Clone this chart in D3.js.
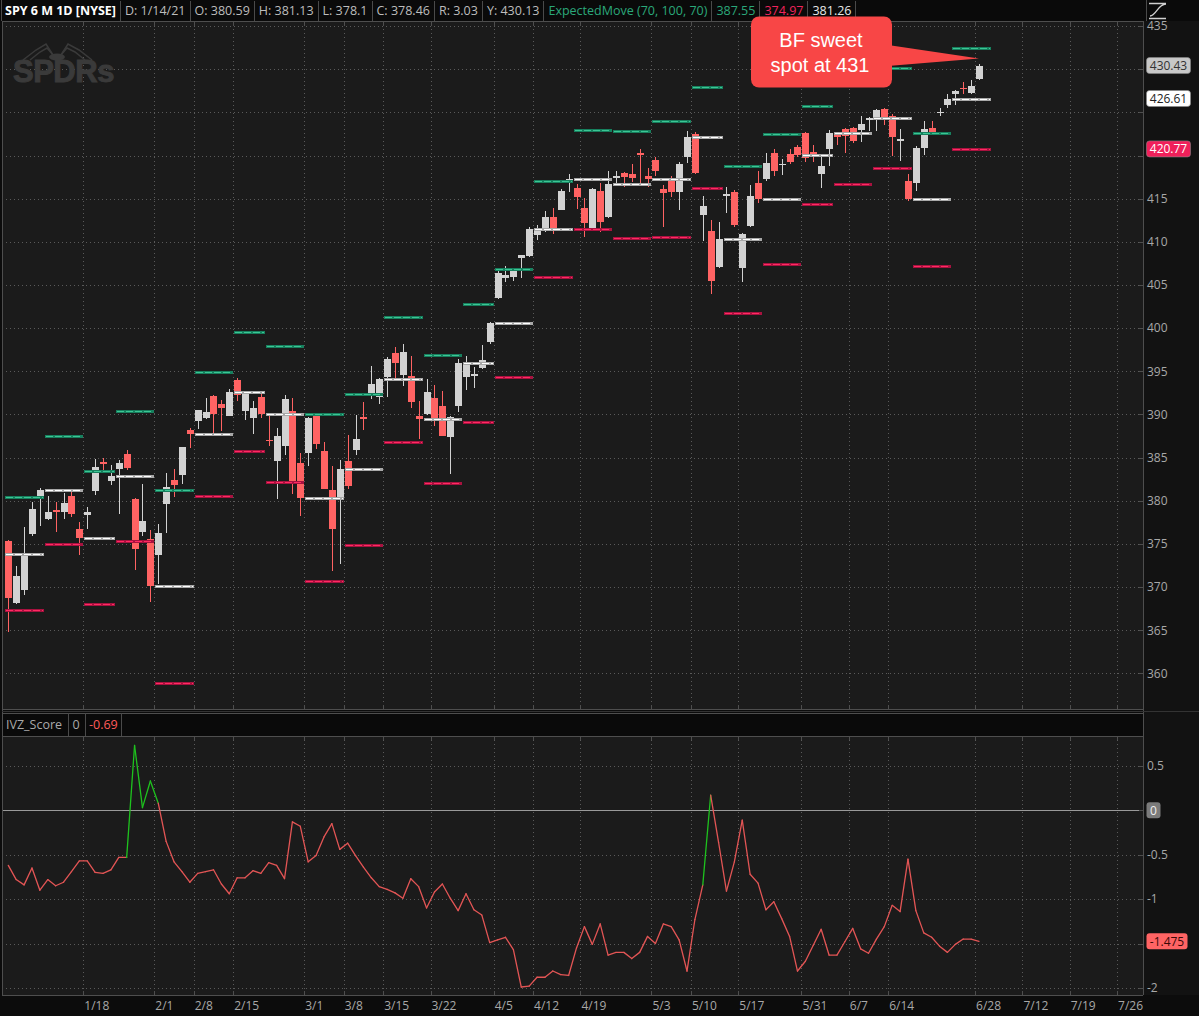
<!DOCTYPE html>
<html><head><meta charset="utf-8">
<script src="https://cdn.jsdelivr.net/npm/d3@7"></script>
<style>html,body{margin:0;padding:0;background:#0c0c0c;overflow:hidden}</style>
</head><body>
<svg id="c" width="1199" height="1016" xmlns="http://www.w3.org/2000/svg"></svg>
<script>
// ---------------- DATA ----------------
const dates = ["1/4","1/5","1/6","1/7","1/8","1/11","1/12","1/13","1/14","1/15","1/19","1/20","1/21","1/22","1/25","1/26","1/27","1/28","1/29",
"2/1","2/2","2/3","2/4","2/5","2/8","2/9","2/10","2/11","2/12","2/16","2/17","2/18","2/19","2/22","2/23","2/24","2/25","2/26",
"3/1","3/2","3/3","3/4","3/5","3/8","3/9","3/10","3/11","3/12","3/15","3/16","3/17","3/18","3/19","3/22","3/23","3/24","3/25","3/26","3/29","3/30","3/31",
"4/1","4/5","4/6","4/7","4/8","4/9","4/12","4/13","4/14","4/15","4/16","4/19","4/20","4/21","4/22","4/23","4/26","4/27","4/28","4/29","4/30",
"5/3","5/4","5/5","5/6","5/7","5/10","5/11","5/12","5/13","5/17","5/18","5/19","5/20","5/21","5/24","5/25","5/26","5/27","5/28",
"6/1","6/2","6/3","6/4","6/7","6/8","6/9","6/10","6/11","6/14","6/15","6/16","6/17","6/18","6/21","6/22","6/23","6/24","6/25","6/28","6/29","6/30","7/1"];
const open = [375.31,368.10,369.71,376.10,380.59,377.85,378.89,378.69,380.59,376.72,378.34,381.11,384.49,382.25,383.67,385.41,380.22,376.36,375.63,
373.72,379.65,382.44,382.96,388.20,389.27,389.61,392.12,391.24,389.85,393.96,390.42,389.59,392.07,387.06,384.66,386.33,390.41,384.35,
385.59,389.82,385.79,381.22,380.46,384.66,385.85,389.69,392.23,392.07,394.33,397.07,394.53,394.48,389.88,390.03,391.91,391.00,387.34,390.93,394.40,394.42,395.34,
398.40,403.46,405.76,405.94,408.10,408.39,410.85,411.53,412.83,413.74,417.25,416.26,413.91,411.51,415.89,412.87,417.44,417.93,417.81,420.32,417.63,
419.43,416.07,417.38,415.83,419.89,422.50,413.10,411.23,407.07,415.39,415.80,406.92,411.80,416.87,417.34,420.33,418.87,420.17,420.97,
422.57,420.37,417.85,420.75,422.59,423.11,423.18,422.96,424.20,424.43,425.42,424.63,421.67,417.09,416.80,420.85,423.19,424.89,425.90,427.17,427.88,427.21,428.87];
const high = [375.45,372.50,376.98,379.90,381.49,380.58,379.86,380.86,381.13,377.58,379.23,384.79,384.95,384.13,384.77,385.85,380.32,381.93,376.67,
377.34,383.22,383.70,386.24,388.47,390.56,391.89,392.28,391.69,392.90,394.17,392.66,391.52,392.38,390.11,388.43,392.23,391.88,385.58,
389.68,390.07,386.83,384.00,384.76,387.68,389.91,391.40,395.65,394.21,396.69,397.83,398.12,396.72,391.57,394.07,393.46,392.75,389.88,396.41,396.75,395.45,398.00,
400.67,406.94,407.24,406.96,408.15,411.67,411.93,413.53,413.96,416.16,417.91,416.74,415.09,416.29,416.78,418.25,418.22,418.14,419.01,420.72,418.54,
419.84,416.60,417.63,419.21,422.82,422.74,415.27,412.59,412.35,416.39,416.06,411.05,416.63,418.20,420.32,420.71,419.61,420.72,421.25,
422.72,421.23,419.99,422.92,422.78,423.21,423.26,424.63,424.43,425.37,425.46,424.87,423.02,417.83,421.06,424.00,424.05,425.55,427.09,427.65,428.56,428.78,430.60];
const low = [364.82,368.05,369.12,375.91,377.10,377.72,376.36,377.85,378.10,373.70,376.75,380.69,383.25,381.84,378.46,383.54,372.01,375.89,368.27,
370.38,376.32,380.48,381.97,386.14,388.35,389.42,387.50,388.10,389.77,391.53,389.33,387.74,389.55,386.35,380.20,385.27,380.78,378.23,
384.00,386.00,381.31,371.88,372.64,381.42,385.31,388.17,391.74,391.20,392.03,394.11,393.30,390.75,387.15,389.97,388.66,387.47,383.14,390.29,392.81,393.02,395.31,
398.18,403.38,405.40,405.45,405.82,408.26,410.20,411.12,410.87,413.69,415.73,413.79,410.59,411.36,411.13,412.79,416.81,416.30,416.90,416.44,416.34,
417.67,411.67,415.15,413.68,419.16,417.81,410.06,404.00,407.02,413.36,411.77,405.33,411.67,414.45,417.08,417.62,417.76,418.99,419.79,
419.20,419.29,416.28,418.84,421.19,420.32,421.41,421.55,422.82,422.82,423.54,419.92,419.32,414.70,415.93,420.08,422.51,424.62,425.55,425.89,427.13,427.18,428.80];
const close = [368.79,371.33,373.55,379.10,381.26,378.69,378.77,379.79,378.46,375.70,378.65,383.89,384.24,382.88,384.39,383.79,374.41,377.63,370.07,
376.23,381.55,381.85,386.19,387.71,390.51,390.25,390.08,390.71,392.64,392.30,392.39,390.72,390.03,387.03,387.50,391.77,382.33,380.36,
389.58,386.54,381.42,376.70,383.63,381.72,387.17,389.58,393.53,394.06,396.41,395.91,397.26,391.48,389.48,392.59,389.50,387.52,389.70,395.98,395.78,394.73,396.33,
400.61,406.36,406.12,406.59,408.52,411.49,411.64,412.86,411.45,415.87,417.26,415.21,412.17,416.07,412.27,416.74,417.61,417.52,417.40,420.06,417.30,
418.20,415.62,415.75,419.07,422.12,417.94,414.21,405.41,410.28,415.52,411.94,410.86,415.28,414.94,419.17,418.24,419.07,419.29,420.04,
419.67,420.33,418.77,422.60,422.19,422.28,421.65,423.61,424.31,425.26,424.48,422.11,421.97,414.92,420.86,423.11,422.60,425.10,426.61,427.47,427.70,428.06,430.43];

// Weekly ExpectedMove study (first/last bar index of each week)
const weekStart = [0,5,10,14,19,24,29,33,38,43,48,53,58,62,67,72,77,82,87,91,96,101,105,110,115,120];
const weekEnd   = [4,9,13,18,23,28,32,37,42,47,52,57,61,66,71,76,81,86,90,95,100,104,109,114,119,124];
const emBase = [373.88,381.26,375.70,382.88,370.07,387.71,392.64,390.03,380.36,383.63,394.06,389.48,395.98,400.61,411.49,417.26,416.74,417.30,422.12,410.28,414.94,420.04,422.60,424.31,414.92,426.61];
const emUp   = [380.40,387.55,383.40,390.40,381.30,394.90,399.50,397.90,390.00,392.40,401.30,396.85,402.80,406.90,417.00,423.00,422.80,424.00,428.00,418.80,422.45,425.70,428.50,430.10,422.60,432.45];
const emDown = [367.36,374.97,368.00,375.36,358.84,380.52,385.78,382.16,370.72,374.86,386.82,382.11,389.16,394.32,405.98,411.52,410.50,410.60,416.24,401.76,407.43,414.38,416.70,418.52,407.24,420.77];

// IVZ_Score, one value per bar
const ivz = [-0.62,-0.78,-0.84,-0.65,-0.90,-0.78,-0.85,-0.81,-0.69,-0.57,-0.57,-0.70,-0.71,-0.67,-0.53,-0.53,0.73,0.03,0.33,0.08,
-0.35,-0.58,-0.69,-0.81,-0.71,-0.69,-0.67,-0.83,-0.94,-0.76,-0.76,-0.68,-0.71,-0.59,-0.62,-0.77,-0.13,-0.18,-0.58,-0.51,
-0.30,-0.15,-0.44,-0.37,-0.51,-0.64,-0.76,-0.86,-0.89,-0.93,-0.99,-0.77,-0.86,-1.10,-0.92,-0.83,-0.99,-1.13,-0.94,-1.12,
-1.18,-1.49,-1.46,-1.43,-1.57,-1.99,-1.98,-1.88,-1.88,-1.81,-1.85,-1.86,-1.55,-1.31,-1.51,-1.28,-1.63,-1.60,-1.60,-1.67,
-1.60,-1.42,-1.50,-1.28,-1.31,-1.46,-1.81,-1.23,-0.84,0.17,-0.36,-0.91,-0.58,-0.11,-0.72,-0.82,-1.12,-1.03,-1.22,-1.42,
-1.81,-1.70,-1.52,-1.34,-1.63,-1.63,-1.48,-1.33,-1.56,-1.61,-1.45,-1.31,-1.07,-1.14,-0.55,-1.13,-1.38,-1.43,-1.53,-1.60,
-1.51,-1.45,-1.45,-1.475];

// time axis labels and the bar slot they start at
const tickLabels = ["1/18","2/1","2/8","2/15","3/1","3/8","3/15","3/22","4/5","4/12","4/19","5/3","5/10","5/17","5/31","6/7","6/14","6/28","7/12","7/19","7/26"];
const tickSlot   = [10,19,24,29,38,43,48,54,62,67,73,82,87,93,101,107,112,123,129,135,141];

const priceTicks = [360,365,370,375,380,385,390,395,400,405,410,415,420,425,430,435];
const ivzTicks = [0.5,-0.5,-1,-1.5,-2];

const headerItems = [
  {t:"SPY 6 M 1D [NYSE]", c:"#ffffff", b:true},
  {t:"D: 1/14/21", c:"#bdbdbd"},
  {t:"O: 380.59", c:"#bdbdbd"},
  {t:"H: 381.13", c:"#bdbdbd"},
  {t:"L: 378.1", c:"#bdbdbd"},
  {t:"C: 378.46", c:"#bdbdbd"},
  {t:"R: 3.03", c:"#bdbdbd"},
  {t:"Y: 430.13", c:"#bdbdbd"},
  {t:"ExpectedMove (70, 100, 70)", c:"#2aa87a"},
  {t:"387.55", c:"#2aa87a"},
  {t:"374.97", c:"#f0245c"},
  {t:"381.26", c:"#e8e8e8"}
];
const lastBubbles = [
  {v:430.43, fill:"#c8c8c8", text:"#333333"},
  {v:426.61, fill:"#ffffff", text:"#222222"},
  {v:420.77, fill:"#f0205a", text:"#ffffff"}
];

// ---------------- LAYOUT ----------------
const W = 1199, H = 1016;
const L = 2, R = 1143, T = 21, B1 = 709, H2T = 713, T2 = 736, B2 = 995;
const svg = d3.select("#c");
const FONT = "'Open Sans', 'Noto Sans', sans-serif";

const x = d3.scaleLinear().domain([0, 123]).range([8.3, 979]);
const step = x(1) - x(0);
const y = d3.scaleLinear().domain([360, 435]).range([673.4, 26.1]);
const yv = d3.scaleLinear().domain([-2, 0.5]).range([987.9, 765.9]);

// backgrounds
svg.append("rect").attr("width", W).attr("height", H).attr("fill", "#0c0c0c");
svg.append("rect").attr("x", L).attr("y", T).attr("width", R - L).attr("height", B1 - T).attr("fill", "#1b1b1b");
svg.append("rect").attr("x", L).attr("y", T2).attr("width", R - L).attr("height", B2 - T2).attr("fill", "#1b1b1b");
svg.append("rect").attr("x", R).attr("y", T).attr("width", W - R).attr("height", B2 - T).attr("fill", "#121212");
svg.append("rect").attr("x", L).attr("y", H2T).attr("width", R - L).attr("height", T2 - H2T).attr("fill", "#0a0a0a");
svg.append("rect").attr("x", 0).attr("y", 0).attr("width", W).attr("height", T).attr("fill", "#0a0a0a");

const grid = svg.append("g").attr("shape-rendering", "crispEdges");
grid.selectAll("line.hp").data(priceTicks).join("line")
  .attr("x1", L).attr("x2", R).attr("y1", d => Math.round(y(d)) + 0.5).attr("y2", d => Math.round(y(d)) + 0.5)
  .attr("stroke", "#5a5a5a").attr("stroke-dasharray", "1,3");
grid.selectAll("line.hv").data(ivzTicks).join("line")
  .attr("x1", L).attr("x2", R).attr("y1", d => Math.round(yv(d)) + 0.5).attr("y2", d => Math.round(yv(d)) + 0.5)
  .attr("stroke", "#5a5a5a").attr("stroke-dasharray", "1,3");
const tx = d => Math.round(x(d - 0.5)) + 0.5;
grid.selectAll("line.vp").data(tickSlot).join("line")
  .attr("x1", tx).attr("x2", tx).attr("y1", T).attr("y2", B1)
  .attr("stroke", "#5a5a5a").attr("stroke-dasharray", "1,3");
grid.selectAll("line.vv").data(tickSlot).join("line")
  .attr("x1", tx).attr("x2", tx).attr("y1", T2).attr("y2", B2)
  .attr("stroke", "#5a5a5a").attr("stroke-dasharray", "1,3");
grid.append("line").attr("x1", L).attr("x2", R).attr("y1", Math.round(yv(0)) + 0.5).attr("y2", Math.round(yv(0)) + 0.5)
  .attr("stroke", "#9a9a9a");

// SPDRs watermark
const logo = svg.append("g").attr("fill", "none").attr("stroke", "#3a3a3a").attr("stroke-width", 1.5);
["M23,60 L36,50 L46,44 L53,55","M30,60 L40,52 L47,48 L54,56","M92,60 L79,50 L68,44 L61,55","M85,60 L75,52 L67,48 L60,56"]
  .forEach(p => logo.append("path").attr("d", p));
svg.append("ellipse").attr("cx", 57).attr("cy", 57).attr("rx", 8).attr("ry", 3.5).attr("fill", "#3a3a3a");
svg.append("text").attr("x", 13).attr("y", 82).attr("font-family", "'Liberation Sans', Arial, sans-serif")
  .attr("font-weight", "bold").attr("font-size", 31).attr("letter-spacing", -0.5).attr("fill", "#3a3a3a")
  .attr("stroke", "#3a3a3a").attr("stroke-width", 1).text("SPDRs");

// candles
const cg = svg.append("g").attr("shape-rendering", "crispEdges");
const idx = d3.range(open.length);
const col = i => close[i] >= open[i] ? "#d2d2d2" : "#ff6363";
cg.selectAll("line.wick").data(idx).join("line")
  .attr("x1", i => Math.round(x(i)) + 0.5).attr("x2", i => Math.round(x(i)) + 0.5)
  .attr("y1", i => y(high[i])).attr("y2", i => y(low[i])).attr("stroke", col);
cg.selectAll("rect.body").data(idx).join("rect")
  .attr("x", i => Math.round(x(i)) - 3).attr("width", 7)
  .attr("y", i => y(Math.max(open[i], close[i])))
  .attr("height", i => Math.max(1.5, Math.abs(y(open[i]) - y(close[i]))))
  .attr("fill", col);

// expected move weekly lines
const wk = d3.range(weekStart.length);
const emStyles = [
  {vals: emUp, base: "#17805e", hi: "#3cc594"},
  {vals: emBase, base: "#a8a8a8", hi: "#ffffff"},
  {vals: emDown, base: "#a8123f", hi: "#ff2a63"}
];
const eg = svg.append("g").attr("shape-rendering", "crispEdges");
emStyles.forEach(s => {
  eg.append("g").selectAll("line").data(wk).join("line")
    .attr("x1", i => x(weekStart[i]) - step / 2 + 1).attr("x2", i => x(weekEnd[i]) + step / 2)
    .attr("y1", i => Math.round(y(s.vals[i])) + 0.5).attr("y2", i => Math.round(y(s.vals[i])) + 0.5)
    .attr("stroke", s.base).attr("stroke-width", 3);
  eg.append("g").selectAll("line").data(wk).join("line")
    .attr("x1", i => x(weekStart[i]) - step / 2 + 2).attr("x2", i => x(weekEnd[i]) + step / 2 - 1)
    .attr("y1", i => Math.round(y(s.vals[i])) + 0.5).attr("y2", i => Math.round(y(s.vals[i])) + 0.5)
    .attr("stroke", s.hi).attr("stroke-width", 1).attr("stroke-dasharray", "7,2");
});

// IVZ line segments
svg.append("g").selectAll("line").data(d3.range(1, ivz.length)).join("line")
  .attr("x1", i => x(i - 1)).attr("y1", i => yv(ivz[i - 1]))
  .attr("x2", i => x(i)).attr("y2", i => yv(ivz[i]))
  .attr("stroke", i => ivz[i] > 0 ? "#1ec21e" : "#e35555").attr("stroke-width", 1.3)
  .attr("stroke-linecap", "round");

// frame lines
const fr = svg.append("g").attr("stroke", "#4e4e4e").attr("shape-rendering", "crispEdges");
fr.append("line").attr("x1", L + 0.5).attr("x2", L + 0.5).attr("y1", T).attr("y2", B2);
fr.append("line").attr("x1", R + 0.5).attr("x2", R + 0.5).attr("y1", T).attr("y2", B2);
[T, B1, H2T, T2, B2].forEach(yy => fr.append("line").attr("x1", L).attr("x2", R).attr("y1", yy + 0.5).attr("y2", yy + 0.5));
fr.append("line").attr("x1", L).attr("x2", W).attr("y1", B1 + 2.5).attr("y2", B1 + 2.5).attr("stroke", "#333");
tickSlot.forEach(s => {
  const xx = tx(s);
  fr.append("line").attr("x1", xx).attr("x2", xx).attr("y1", T).attr("y2", T + 5);
  fr.append("line").attr("x1", xx).attr("x2", xx).attr("y1", B1 - 4).attr("y2", B1);
  fr.append("line").attr("x1", xx).attr("x2", xx).attr("y1", T2).attr("y2", T2 + 4);
  fr.append("line").attr("x1", xx).attr("x2", xx).attr("y1", B2 - 4).attr("y2", B2);
});
priceTicks.forEach(v => fr.append("line").attr("x1", R - 4).attr("x2", R).attr("y1", Math.round(y(v)) + 0.5).attr("y2", Math.round(y(v)) + 0.5));
ivzTicks.concat([0]).forEach(v => fr.append("line").attr("x1", R - 4).attr("x2", R).attr("y1", Math.round(yv(v)) + 0.5).attr("y2", Math.round(yv(v)) + 0.5));

// right axis labels (those hidden under the last-value bubbles are skipped)
const lastIvz = ivz[ivz.length - 1];
const hiddenP = v => lastBubbles.some(b => Math.abs(y(b.v) - y(v)) < 14);
const hiddenV = v => Math.abs(yv(lastIvz) - yv(v)) < 14;
const ax = svg.append("g").attr("font-family", FONT).attr("font-size", 12).attr("fill", "#a8a8a8");
ax.selectAll("text.p").data(priceTicks.filter(v => !hiddenP(v))).join("text")
  .attr("x", R + 4).attr("y", d => y(d) + 4.3).text(d => d);
ax.selectAll("text.v").data(ivzTicks.filter(v => !hiddenV(v))).join("text")
  .attr("x", R + 4).attr("y", d => yv(d) + 4.3).text(d => d);

// last value bubbles
lastBubbles.forEach(b => {
  const cy = y(b.v);
  svg.append("rect").attr("x", R + 3.5).attr("y", cy - 8).attr("width", 44).attr("height", 16).attr("rx", 3)
    .attr("fill", b.fill).attr("stroke", "#888").attr("stroke-width", 0.6);
  svg.append("text").attr("x", R + 25.5).attr("y", cy + 4.3).attr("text-anchor", "middle")
    .attr("font-family", FONT).attr("font-size", 12).attr("fill", b.text).text(b.v.toFixed(2));
});
svg.append("rect").attr("x", R + 3.5).attr("y", yv(0) - 8).attr("width", 14).attr("height", 16).attr("rx", 3).attr("fill", "#7b7b7b");
svg.append("text").attr("x", R + 10.5).attr("y", yv(0) + 4.3).attr("text-anchor", "middle")
  .attr("font-family", FONT).attr("font-size", 12).attr("fill", "#f0f0f0").text("0");
svg.append("rect").attr("x", R + 3.5).attr("y", yv(lastIvz) - 8).attr("width", 41).attr("height", 16).attr("rx", 3).attr("fill", "#ff6464");
svg.append("text").attr("x", R + 24).attr("y", yv(lastIvz) + 4.3).attr("text-anchor", "middle")
  .attr("font-family", FONT).attr("font-size", 12).attr("fill", "#3a0808").text(String(lastIvz));

// bottom time labels
svg.append("g").attr("font-family", FONT).attr("font-size", 12).attr("fill", "#a8a8a8")
  .selectAll("text").data(tickSlot).join("text")
  .attr("x", d => x(d - 0.5) + 1).attr("y", 1010).text((d, i) => tickLabels[i]);

// header
const hg = svg.append("g").attr("font-family", FONT).attr("font-size", 12.5);
let hx = 5;
headerItems.forEach(h => {
  const t = hg.append("text").attr("x", hx).attr("y", 15).attr("fill", h.c).attr("font-weight", h.b ? "bold" : null).text(h.t);
  const w = t.node().getComputedTextLength();
  hx += w + 4;
  hg.append("line").attr("x1", Math.round(hx) + 0.5).attr("x2", Math.round(hx) + 0.5).attr("y1", 1).attr("y2", 21)
    .attr("stroke", "#4a4a4a").attr("shape-rendering", "crispEdges");
  hx += 5;
});
svg.append("line").attr("x1", 1146.5).attr("x2", 1146.5).attr("y1", 0).attr("y2", 21).attr("stroke", "#4a4a4a");
svg.append("path").attr("d", "M1149,3.5 H1166 M1149,18.5 H1166 M1150,16 C1156,16 1158,4 1166,4")
  .attr("fill", "none").attr("stroke", "#d0d0d0").attr("stroke-width", 1.3);
svg.append("line").attr("x1", 1.5).attr("x2", 1.5).attr("y1", 0).attr("y2", 21).attr("stroke", "#4a4a4a");

// lower panel header
const lh = svg.append("g").attr("font-family", FONT).attr("font-size", 12.5);
lh.append("text").attr("x", 6).attr("y", 729).attr("fill", "#a9a9a9").text("IVZ_Score");
lh.append("text").attr("x", 72.5).attr("y", 729).attr("fill", "#a9a9a9").text("0");
lh.append("text").attr("x", 89).attr("y", 729).attr("fill", "#ff5a5a").text(ivz[8].toFixed(2));
[68.5, 85.5, 121.5].forEach(xx => lh.append("line").attr("x1", xx).attr("x2", xx).attr("y1", H2T).attr("y2", T2)
  .attr("stroke", "#4a4a4a").attr("shape-rendering", "crispEdges"));

// annotation callout
const cal = svg.append("g");
cal.append("path").attr("d", "M888,45 L979,58.5 L888,66 Z").attr("fill", "#f84646");
cal.append("rect").attr("x", 751).attr("y", 16.5).attr("width", 141).attr("height", 71).attr("rx", 8).attr("fill", "#f84646");
cal.append("text").attr("x", 821).attr("y", 47).attr("text-anchor", "middle")
  .attr("font-family", "'Liberation Sans', Arial, sans-serif").attr("font-size", 20).attr("fill", "#ffffff").text("BF sweet");
cal.append("text").attr("x", 820).attr("y", 71.5).attr("text-anchor", "middle")
  .attr("font-family", "'Liberation Sans', Arial, sans-serif").attr("font-size", 20).attr("fill", "#ffffff").text("spot at 431");
</script>
</body></html>
